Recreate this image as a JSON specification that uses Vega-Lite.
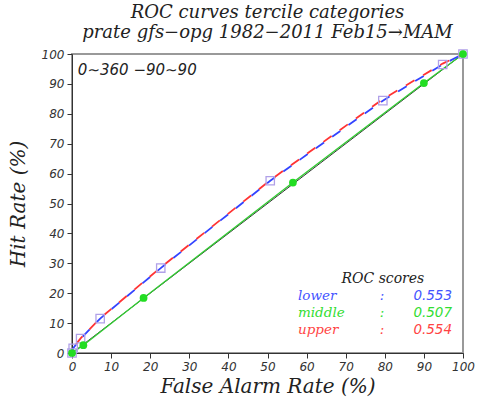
{
  "$schema": "https://vega.github.io/schema/vega-lite/v6.json",
  "autosize": "none",
  "width": 391,
  "height": 299,
  "padding": {"left": 72, "top": 54, "right": 15, "bottom": 46},
  "background": "white",
  "title": {
    "text": ["ROC curves tercile categories", "prate gfs−opg 1982−2011 Feb15→MAM"],
    "font": "DejaVu Serif",
    "fontStyle": "italic",
    "fontWeight": "normal",
    "fontSize": 18,
    "lineHeight": 20,
    "color": "#222",
    "anchor": "middle",
    "offset": 5
  },
  "datasets": {
    "roc": [
      {"series": "reference", "far": 0, "hr": 0},
      {"series": "reference", "far": 100, "hr": 100},
      {"series": "middle", "far": 0, "hr": 0},
      {"series": "middle", "far": 2.9, "hr": 2.6},
      {"series": "middle", "far": 18.3, "hr": 18.4},
      {"series": "middle", "far": 56.5, "hr": 57.0},
      {"series": "middle", "far": 90.0, "hr": 90.3},
      {"series": "middle", "far": 100, "hr": 100},
      {"series": "lower", "far": 0, "hr": 0},
      {"series": "lower", "far": 0.3, "hr": 1.6},
      {"series": "lower", "far": 2.2, "hr": 4.8},
      {"series": "lower", "far": 7.2, "hr": 11.5},
      {"series": "lower", "far": 22.7, "hr": 28.4},
      {"series": "lower", "far": 50.7, "hr": 57.6},
      {"series": "lower", "far": 79.5, "hr": 84.4},
      {"series": "lower", "far": 94.8, "hr": 96.5},
      {"series": "lower", "far": 100, "hr": 100},
      {"series": "upper", "far": 0, "hr": 0},
      {"series": "upper", "far": 0.3, "hr": 1.7},
      {"series": "upper", "far": 2.2, "hr": 4.9},
      {"series": "upper", "far": 7.2, "hr": 11.6},
      {"series": "upper", "far": 22.7, "hr": 28.6},
      {"series": "upper", "far": 50.7, "hr": 57.8},
      {"series": "upper", "far": 79.5, "hr": 84.9},
      {"series": "upper", "far": 94.8, "hr": 96.8},
      {"series": "upper", "far": 100, "hr": 100}
    ],
    "notes": [
      {"label": "0∼360  −90∼90", "far": 1.5, "hr": 94.6}
    ],
    "head": [
      {"label": "ROC scores", "far": 79.5, "hr": 24.8}
    ],
    "scores": [
      {"name": "lower", "part": "name", "label": "lower", "far": 57.8, "hr": 19.0},
      {"name": "middle", "part": "name", "label": "middle", "far": 57.8, "hr": 13.4},
      {"name": "upper", "part": "name", "label": "upper", "far": 57.8, "hr": 7.8},
      {"name": "lower", "part": "colon", "label": ":", "far": 79.3, "hr": 19.0},
      {"name": "middle", "part": "colon", "label": ":", "far": 79.3, "hr": 13.4},
      {"name": "upper", "part": "colon", "label": ":", "far": 79.3, "hr": 7.8},
      {"name": "lower", "part": "value", "label": "0.553", "far": 97.2, "hr": 19.0},
      {"name": "middle", "part": "value", "label": "0.507", "far": 97.2, "hr": 13.4},
      {"name": "upper", "part": "value", "label": "0.554", "far": 97.2, "hr": 7.8}
    ]
  },
  "config": {
    "view": {"stroke": "#999", "strokeWidth": 2},
    "axis": {
      "grid": false,
      "domainColor": "#333",
      "tickColor": "#333",
      "tickSize": 5,
      "labelFont": "DejaVu Sans",
      "labelFontStyle": "italic",
      "labelFontSize": 12,
      "labelColor": "#333",
      "titleFont": "DejaVu Serif",
      "titleFontStyle": "italic",
      "titleFontWeight": "normal",
      "titleFontSize": 20,
      "titleColor": "#222"
    }
  },
  "encoding": {
    "x": {
      "field": "far", "type": "quantitative",
      "scale": {"domain": [0, 100], "nice": false},
      "axis": {"title": "False Alarm Rate (%)", "values": [0,10,20,30,40,50,60,70,80,90,100], "labelFlush": false, "labelPadding": 3, "titlePadding": 4}
    },
    "y": {
      "field": "hr", "type": "quantitative",
      "scale": {"domain": [0, 100], "nice": false},
      "axis": {"title": "Hit Rate (%)", "values": [0,10,20,30,40,50,60,70,80,90,100], "labelFlush": false, "labelPadding": 3, "titlePadding": 13}
    }
  },
  "layer": [
    {
      "data": {"name": "roc"},
      "transform": [{"filter": "datum.series === 'reference'"}],
      "mark": {"type": "line", "color": "#333", "strokeWidth": 1}
    },
    {
      "data": {"name": "roc"},
      "transform": [{"filter": "datum.series === 'middle'"}],
      "mark": {"type": "line", "color": "#33cc33", "strokeWidth": 1.4}
    },
    {
      "data": {"name": "roc"},
      "transform": [{"filter": "datum.series === 'lower'"}],
      "mark": {"type": "line", "color": "#3344ff", "strokeWidth": 1.8, "strokeDash": [10, 10]}
    },
    {
      "data": {"name": "roc"},
      "transform": [{"filter": "datum.series === 'upper'"}],
      "mark": {"type": "line", "color": "#ff3333", "strokeWidth": 1.8, "strokeDash": [10, 10], "strokeDashOffset": 10}
    },
    {
      "data": {"name": "roc"},
      "transform": [{"filter": "datum.series === 'lower'"}],
      "mark": {"type": "point", "shape": "square", "size": 70, "filled": false, "color": "#b0a0e8", "strokeWidth": 1.3, "opacity": 1}
    },
    {
      "data": {"name": "roc"},
      "transform": [{"filter": "datum.series === 'middle'"}],
      "mark": {"type": "circle", "size": 60, "color": "#22dd22", "opacity": 1}
    },
    {
      "data": {"name": "notes"},
      "mark": {"type": "text", "align": "left", "baseline": "middle", "font": "DejaVu Sans", "fontStyle": "italic", "fontSize": 15, "fill": "#222"},
      "encoding": {"text": {"field": "label"}}
    },
    {
      "data": {"name": "head"},
      "mark": {"type": "text", "align": "center", "baseline": "middle", "font": "DejaVu Serif", "fontStyle": "italic", "fontSize": 14, "fill": "#222"},
      "encoding": {"text": {"field": "label"}}
    },
    {
      "data": {"name": "scores"},
      "transform": [{"filter": "datum.part === 'name'"}],
      "mark": {"type": "text", "align": "left", "baseline": "middle", "font": "DejaVu Serif", "fontStyle": "italic", "fontSize": 13.5},
      "encoding": {
        "text": {"field": "label"},
        "color": {"field": "name", "type": "nominal", "scale": {"domain": ["lower", "middle", "upper"], "range": ["#4455ff", "#33dd33", "#ff4444"]}, "legend": null}
      }
    },
    {
      "data": {"name": "scores"},
      "transform": [{"filter": "datum.part === 'colon'"}],
      "mark": {"type": "text", "align": "center", "baseline": "middle", "font": "DejaVu Serif", "fontStyle": "italic", "fontSize": 13.5},
      "encoding": {
        "text": {"field": "label"},
        "color": {"field": "name", "type": "nominal", "legend": null}
      }
    },
    {
      "data": {"name": "scores"},
      "transform": [{"filter": "datum.part === 'value'"}],
      "mark": {"type": "text", "align": "right", "baseline": "middle", "font": "DejaVu Sans", "fontStyle": "italic", "fontSize": 13.5},
      "encoding": {
        "text": {"field": "label"},
        "color": {"field": "name", "type": "nominal", "legend": null}
      }
    }
  ]
}
